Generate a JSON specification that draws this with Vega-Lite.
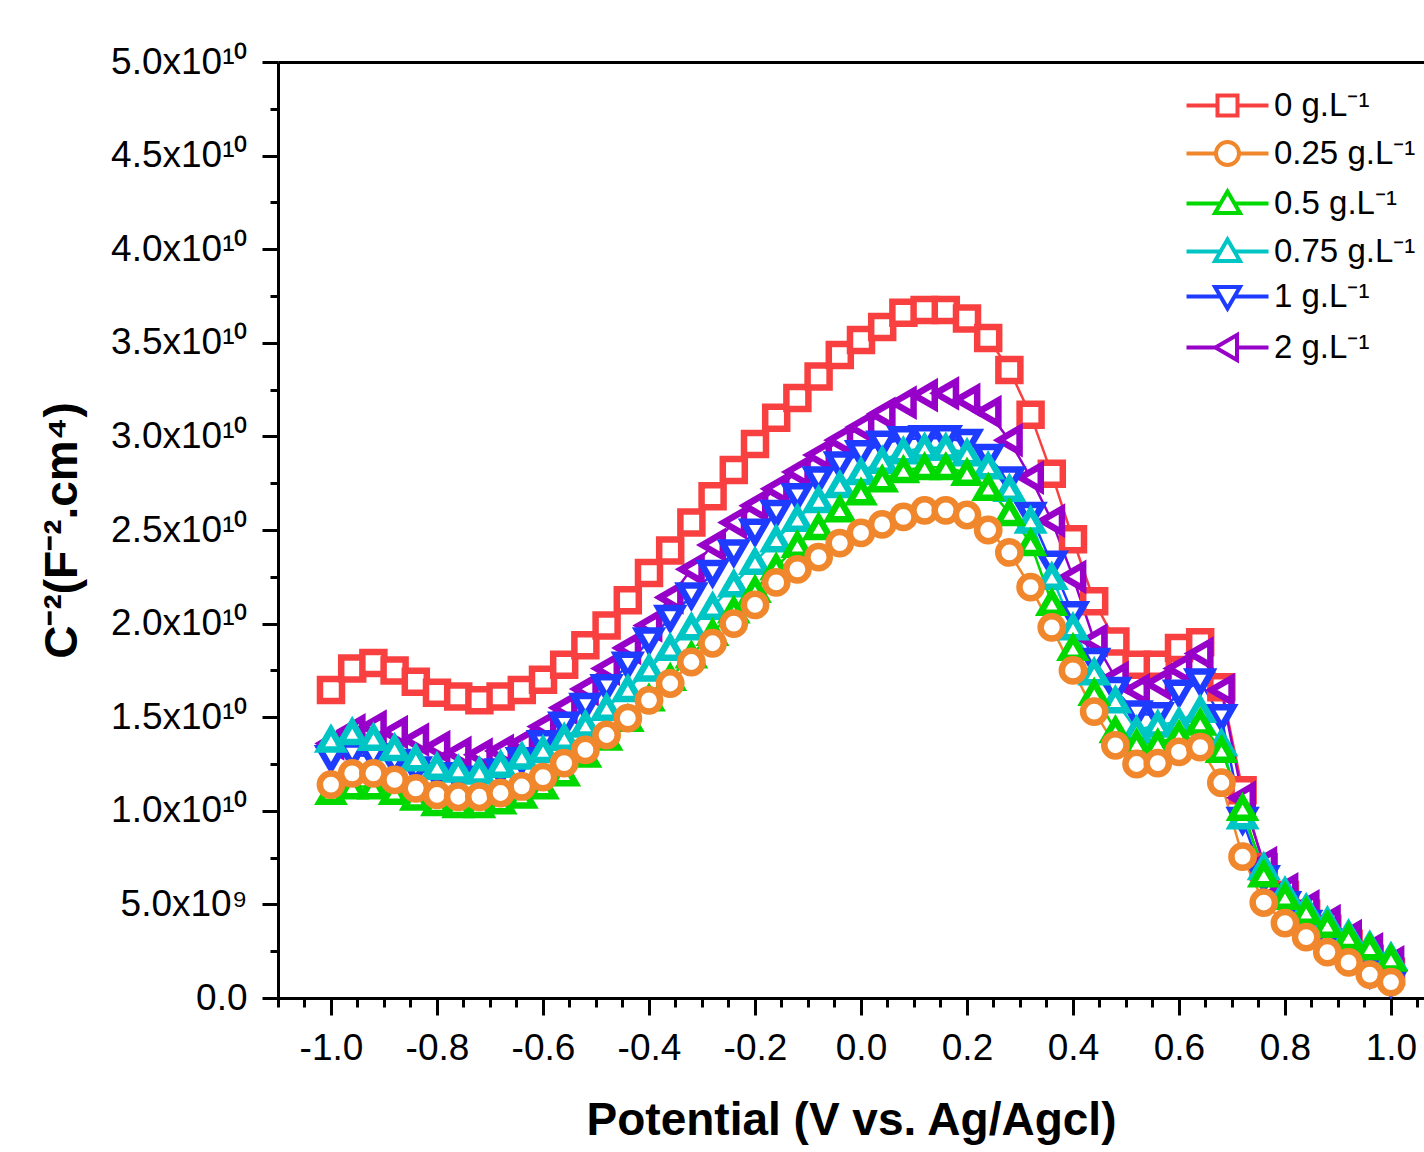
{
"$schema": "https://vega.github.io/schema/vega-lite/v6.json",
"width": 1146, "height": 936,
"autosize": {"type": "none"},
"padding": {"left": 278, "top": 62, "right": 0, "bottom": 154},
"background": "white",
"config": {
 "view": {"stroke": null},
 "axis": {"grid": false, "domainColor": "black", "domainWidth": 3, "tickColor": "black", "tickWidth": 3, "labelFont": "Liberation Sans", "labelFontSize": 37, "labelColor": "black", "titleFont": "Liberation Sans", "titleFontSize": 46, "titleFontWeight": "bold", "titleColor": "black", "labelOverlap": false, "labelFlush": false}
},
"datasets": {"d": [
{"c":"0 g.L⁻¹","v":-1,"y":1.645e10},{"c":"0 g.L⁻¹","v":-0.96,"y":1.76e10},{"c":"0 g.L⁻¹","v":-0.92,"y":1.79e10},{"c":"0 g.L⁻¹","v":-0.88,"y":1.75e10},{"c":"0 g.L⁻¹","v":-0.84,"y":1.69e10},{"c":"0 g.L⁻¹","v":-0.8,"y":1.63e10},{"c":"0 g.L⁻¹","v":-0.76,"y":1.61e10},{"c":"0 g.L⁻¹","v":-0.72,"y":1.59e10},{"c":"0 g.L⁻¹","v":-0.68,"y":1.61e10},{"c":"0 g.L⁻¹","v":-0.64,"y":1.645e10},{"c":"0 g.L⁻¹","v":-0.6,"y":1.7e10},{"c":"0 g.L⁻¹","v":-0.56,"y":1.78e10},{"c":"0 g.L⁻¹","v":-0.52,"y":1.885e10},{"c":"0 g.L⁻¹","v":-0.48,"y":1.99e10},{"c":"0 g.L⁻¹","v":-0.44,"y":2.125e10},{"c":"0 g.L⁻¹","v":-0.4,"y":2.27e10},{"c":"0 g.L⁻¹","v":-0.36,"y":2.39e10},{"c":"0 g.L⁻¹","v":-0.32,"y":2.54e10},{"c":"0 g.L⁻¹","v":-0.28,"y":2.68e10},{"c":"0 g.L⁻¹","v":-0.24,"y":2.82e10},{"c":"0 g.L⁻¹","v":-0.2,"y":2.96e10},{"c":"0 g.L⁻¹","v":-0.16,"y":3.1e10},{"c":"0 g.L⁻¹","v":-0.12,"y":3.205e10},{"c":"0 g.L⁻¹","v":-0.08,"y":3.32e10},{"c":"0 g.L⁻¹","v":-0.04,"y":3.435e10},{"c":"0 g.L⁻¹","v":0,"y":3.515e10},{"c":"0 g.L⁻¹","v":0.04,"y":3.585e10},{"c":"0 g.L⁻¹","v":0.08,"y":3.66e10},{"c":"0 g.L⁻¹","v":0.12,"y":3.675e10},{"c":"0 g.L⁻¹","v":0.16,"y":3.675e10},{"c":"0 g.L⁻¹","v":0.2,"y":3.63e10},{"c":"0 g.L⁻¹","v":0.24,"y":3.525e10},{"c":"0 g.L⁻¹","v":0.28,"y":3.355e10},{"c":"0 g.L⁻¹","v":0.32,"y":3.115e10},{"c":"0 g.L⁻¹","v":0.36,"y":2.8e10},{"c":"0 g.L⁻¹","v":0.4,"y":2.45e10},{"c":"0 g.L⁻¹","v":0.44,"y":2.12e10},{"c":"0 g.L⁻¹","v":0.48,"y":1.905e10},{"c":"0 g.L⁻¹","v":0.52,"y":1.78e10},{"c":"0 g.L⁻¹","v":0.56,"y":1.78e10},{"c":"0 g.L⁻¹","v":0.6,"y":1.87e10},{"c":"0 g.L⁻¹","v":0.64,"y":1.9e10},{"c":"0 g.L⁻¹","v":0.68,"y":1.66e10},{"c":"0 g.L⁻¹","v":0.72,"y":1.11e10},{"c":"0 g.L⁻¹","v":0.76,"y":0.7e10},{"c":"0 g.L⁻¹","v":0.8,"y":0.55e10},{"c":"0 g.L⁻¹","v":0.84,"y":0.45e10},{"c":"0 g.L⁻¹","v":0.88,"y":0.37e10},{"c":"0 g.L⁻¹","v":0.92,"y":0.29e10},{"c":"0 g.L⁻¹","v":0.96,"y":0.21e10},{"c":"0 g.L⁻¹","v":1,"y":0.14e10},
{"c":"2 g.L⁻¹","v":-1,"y":1.36e10},{"c":"2 g.L⁻¹","v":-0.96,"y":1.43e10},{"c":"2 g.L⁻¹","v":-0.92,"y":1.45e10},{"c":"2 g.L⁻¹","v":-0.88,"y":1.42e10},{"c":"2 g.L⁻¹","v":-0.84,"y":1.38e10},{"c":"2 g.L⁻¹","v":-0.8,"y":1.34e10},{"c":"2 g.L⁻¹","v":-0.76,"y":1.31e10},{"c":"2 g.L⁻¹","v":-0.72,"y":1.3e10},{"c":"2 g.L⁻¹","v":-0.68,"y":1.32e10},{"c":"2 g.L⁻¹","v":-0.64,"y":1.36e10},{"c":"2 g.L⁻¹","v":-0.6,"y":1.45e10},{"c":"2 g.L⁻¹","v":-0.56,"y":1.55e10},{"c":"2 g.L⁻¹","v":-0.52,"y":1.65e10},{"c":"2 g.L⁻¹","v":-0.48,"y":1.76e10},{"c":"2 g.L⁻¹","v":-0.44,"y":1.87e10},{"c":"2 g.L⁻¹","v":-0.4,"y":1.99e10},{"c":"2 g.L⁻¹","v":-0.36,"y":2.14e10},{"c":"2 g.L⁻¹","v":-0.32,"y":2.29e10},{"c":"2 g.L⁻¹","v":-0.28,"y":2.42e10},{"c":"2 g.L⁻¹","v":-0.24,"y":2.54e10},{"c":"2 g.L⁻¹","v":-0.2,"y":2.63e10},{"c":"2 g.L⁻¹","v":-0.16,"y":2.72e10},{"c":"2 g.L⁻¹","v":-0.12,"y":2.81e10},{"c":"2 g.L⁻¹","v":-0.08,"y":2.9e10},{"c":"2 g.L⁻¹","v":-0.04,"y":2.98e10},{"c":"2 g.L⁻¹","v":0,"y":3.05e10},{"c":"2 g.L⁻¹","v":0.04,"y":3.12e10},{"c":"2 g.L⁻¹","v":0.08,"y":3.18e10},{"c":"2 g.L⁻¹","v":0.12,"y":3.22e10},{"c":"2 g.L⁻¹","v":0.16,"y":3.23e10},{"c":"2 g.L⁻¹","v":0.2,"y":3.195e10},{"c":"2 g.L⁻¹","v":0.24,"y":3.13e10},{"c":"2 g.L⁻¹","v":0.28,"y":2.98e10},{"c":"2 g.L⁻¹","v":0.32,"y":2.78e10},{"c":"2 g.L⁻¹","v":0.36,"y":2.55e10},{"c":"2 g.L⁻¹","v":0.4,"y":2.25e10},{"c":"2 g.L⁻¹","v":0.44,"y":1.91e10},{"c":"2 g.L⁻¹","v":0.48,"y":1.71e10},{"c":"2 g.L⁻¹","v":0.52,"y":1.645e10},{"c":"2 g.L⁻¹","v":0.56,"y":1.68e10},{"c":"2 g.L⁻¹","v":0.6,"y":1.76e10},{"c":"2 g.L⁻¹","v":0.64,"y":1.84e10},{"c":"2 g.L⁻¹","v":0.68,"y":1.645e10},{"c":"2 g.L⁻¹","v":0.72,"y":1.07e10},{"c":"2 g.L⁻¹","v":0.76,"y":0.72e10},{"c":"2 g.L⁻¹","v":0.8,"y":0.58e10},{"c":"2 g.L⁻¹","v":0.84,"y":0.49e10},{"c":"2 g.L⁻¹","v":0.88,"y":0.41e10},{"c":"2 g.L⁻¹","v":0.92,"y":0.33e10},{"c":"2 g.L⁻¹","v":0.96,"y":0.26e10},{"c":"2 g.L⁻¹","v":1,"y":0.19e10},
{"c":"1 g.L⁻¹","v":-1,"y":1.28e10},{"c":"1 g.L⁻¹","v":-0.96,"y":1.3e10},{"c":"1 g.L⁻¹","v":-0.92,"y":1.29e10},{"c":"1 g.L⁻¹","v":-0.88,"y":1.26e10},{"c":"1 g.L⁻¹","v":-0.84,"y":1.22e10},{"c":"1 g.L⁻¹","v":-0.8,"y":1.19e10},{"c":"1 g.L⁻¹","v":-0.76,"y":1.17e10},{"c":"1 g.L⁻¹","v":-0.72,"y":1.17e10},{"c":"1 g.L⁻¹","v":-0.68,"y":1.21e10},{"c":"1 g.L⁻¹","v":-0.64,"y":1.27e10},{"c":"1 g.L⁻¹","v":-0.6,"y":1.36e10},{"c":"1 g.L⁻¹","v":-0.56,"y":1.46e10},{"c":"1 g.L⁻¹","v":-0.52,"y":1.56e10},{"c":"1 g.L⁻¹","v":-0.48,"y":1.66e10},{"c":"1 g.L⁻¹","v":-0.44,"y":1.78e10},{"c":"1 g.L⁻¹","v":-0.4,"y":1.91e10},{"c":"1 g.L⁻¹","v":-0.36,"y":2.03e10},{"c":"1 g.L⁻¹","v":-0.32,"y":2.15e10},{"c":"1 g.L⁻¹","v":-0.28,"y":2.27e10},{"c":"1 g.L⁻¹","v":-0.24,"y":2.38e10},{"c":"1 g.L⁻¹","v":-0.2,"y":2.49e10},{"c":"1 g.L⁻¹","v":-0.16,"y":2.59e10},{"c":"1 g.L⁻¹","v":-0.12,"y":2.68e10},{"c":"1 g.L⁻¹","v":-0.08,"y":2.77e10},{"c":"1 g.L⁻¹","v":-0.04,"y":2.85e10},{"c":"1 g.L⁻¹","v":0,"y":2.91e10},{"c":"1 g.L⁻¹","v":0.04,"y":2.96e10},{"c":"1 g.L⁻¹","v":0.08,"y":2.985e10},{"c":"1 g.L⁻¹","v":0.12,"y":2.99e10},{"c":"1 g.L⁻¹","v":0.16,"y":2.99e10},{"c":"1 g.L⁻¹","v":0.2,"y":2.97e10},{"c":"1 g.L⁻¹","v":0.24,"y":2.89e10},{"c":"1 g.L⁻¹","v":0.28,"y":2.77e10},{"c":"1 g.L⁻¹","v":0.32,"y":2.58e10},{"c":"1 g.L⁻¹","v":0.36,"y":2.32e10},{"c":"1 g.L⁻¹","v":0.4,"y":2.05e10},{"c":"1 g.L⁻¹","v":0.44,"y":1.8e10},{"c":"1 g.L⁻¹","v":0.48,"y":1.645e10},{"c":"1 g.L⁻¹","v":0.52,"y":1.52e10},{"c":"1 g.L⁻¹","v":0.56,"y":1.51e10},{"c":"1 g.L⁻¹","v":0.6,"y":1.63e10},{"c":"1 g.L⁻¹","v":0.64,"y":1.69e10},{"c":"1 g.L⁻¹","v":0.68,"y":1.5e10},{"c":"1 g.L⁻¹","v":0.72,"y":0.95e10},{"c":"1 g.L⁻¹","v":0.76,"y":0.64e10},{"c":"1 g.L⁻¹","v":0.8,"y":0.5e10},{"c":"1 g.L⁻¹","v":0.84,"y":0.4e10},{"c":"1 g.L⁻¹","v":0.88,"y":0.3e10},{"c":"1 g.L⁻¹","v":0.92,"y":0.21e10},{"c":"1 g.L⁻¹","v":0.96,"y":0.13e10},{"c":"1 g.L⁻¹","v":1,"y":0.08e10},
{"c":"0.75 g.L⁻¹","v":-1,"y":1.38e10},{"c":"0.75 g.L⁻¹","v":-0.96,"y":1.42e10},{"c":"0.75 g.L⁻¹","v":-0.92,"y":1.39e10},{"c":"0.75 g.L⁻¹","v":-0.88,"y":1.335e10},{"c":"0.75 g.L⁻¹","v":-0.84,"y":1.28e10},{"c":"0.75 g.L⁻¹","v":-0.8,"y":1.235e10},{"c":"0.75 g.L⁻¹","v":-0.76,"y":1.22e10},{"c":"0.75 g.L⁻¹","v":-0.72,"y":1.21e10},{"c":"0.75 g.L⁻¹","v":-0.68,"y":1.245e10},{"c":"0.75 g.L⁻¹","v":-0.64,"y":1.29e10},{"c":"0.75 g.L⁻¹","v":-0.6,"y":1.325e10},{"c":"0.75 g.L⁻¹","v":-0.56,"y":1.39e10},{"c":"0.75 g.L⁻¹","v":-0.52,"y":1.46e10},{"c":"0.75 g.L⁻¹","v":-0.48,"y":1.55e10},{"c":"0.75 g.L⁻¹","v":-0.44,"y":1.65e10},{"c":"0.75 g.L⁻¹","v":-0.4,"y":1.76e10},{"c":"0.75 g.L⁻¹","v":-0.36,"y":1.87e10},{"c":"0.75 g.L⁻¹","v":-0.32,"y":1.98e10},{"c":"0.75 g.L⁻¹","v":-0.28,"y":2.09e10},{"c":"0.75 g.L⁻¹","v":-0.24,"y":2.21e10},{"c":"0.75 g.L⁻¹","v":-0.2,"y":2.33e10},{"c":"0.75 g.L⁻¹","v":-0.16,"y":2.45e10},{"c":"0.75 g.L⁻¹","v":-0.12,"y":2.56e10},{"c":"0.75 g.L⁻¹","v":-0.08,"y":2.66e10},{"c":"0.75 g.L⁻¹","v":-0.04,"y":2.74e10},{"c":"0.75 g.L⁻¹","v":0,"y":2.81e10},{"c":"0.75 g.L⁻¹","v":0.04,"y":2.87e10},{"c":"0.75 g.L⁻¹","v":0.08,"y":2.92e10},{"c":"0.75 g.L⁻¹","v":0.12,"y":2.94e10},{"c":"0.75 g.L⁻¹","v":0.16,"y":2.94e10},{"c":"0.75 g.L⁻¹","v":0.2,"y":2.91e10},{"c":"0.75 g.L⁻¹","v":0.24,"y":2.84e10},{"c":"0.75 g.L⁻¹","v":0.28,"y":2.72e10},{"c":"0.75 g.L⁻¹","v":0.32,"y":2.55e10},{"c":"0.75 g.L⁻¹","v":0.36,"y":2.25e10},{"c":"0.75 g.L⁻¹","v":0.4,"y":1.98e10},{"c":"0.75 g.L⁻¹","v":0.44,"y":1.74e10},{"c":"0.75 g.L⁻¹","v":0.48,"y":1.59e10},{"c":"0.75 g.L⁻¹","v":0.52,"y":1.43e10},{"c":"0.75 g.L⁻¹","v":0.56,"y":1.46e10},{"c":"0.75 g.L⁻¹","v":0.6,"y":1.475e10},{"c":"0.75 g.L⁻¹","v":0.64,"y":1.54e10},{"c":"0.75 g.L⁻¹","v":0.68,"y":1.36e10},{"c":"0.75 g.L⁻¹","v":0.72,"y":0.97e10},{"c":"0.75 g.L⁻¹","v":0.76,"y":0.7e10},{"c":"0.75 g.L⁻¹","v":0.8,"y":0.57e10},{"c":"0.75 g.L⁻¹","v":0.84,"y":0.48e10},{"c":"0.75 g.L⁻¹","v":0.88,"y":0.41e10},{"c":"0.75 g.L⁻¹","v":0.92,"y":0.34e10},{"c":"0.75 g.L⁻¹","v":0.96,"y":0.28e10},{"c":"0.75 g.L⁻¹","v":1,"y":0.22e10},
{"c":"0.5 g.L⁻¹","v":-1,"y":1.1e10},{"c":"0.5 g.L⁻¹","v":-0.96,"y":1.13e10},{"c":"0.5 g.L⁻¹","v":-0.92,"y":1.13e10},{"c":"0.5 g.L⁻¹","v":-0.88,"y":1.1e10},{"c":"0.5 g.L⁻¹","v":-0.84,"y":1.07e10},{"c":"0.5 g.L⁻¹","v":-0.8,"y":1.04e10},{"c":"0.5 g.L⁻¹","v":-0.76,"y":1.03e10},{"c":"0.5 g.L⁻¹","v":-0.72,"y":1.03e10},{"c":"0.5 g.L⁻¹","v":-0.68,"y":1.05e10},{"c":"0.5 g.L⁻¹","v":-0.64,"y":1.08e10},{"c":"0.5 g.L⁻¹","v":-0.6,"y":1.13e10},{"c":"0.5 g.L⁻¹","v":-0.56,"y":1.2e10},{"c":"0.5 g.L⁻¹","v":-0.52,"y":1.3e10},{"c":"0.5 g.L⁻¹","v":-0.48,"y":1.39e10},{"c":"0.5 g.L⁻¹","v":-0.44,"y":1.49e10},{"c":"0.5 g.L⁻¹","v":-0.4,"y":1.6e10},{"c":"0.5 g.L⁻¹","v":-0.36,"y":1.71e10},{"c":"0.5 g.L⁻¹","v":-0.32,"y":1.83e10},{"c":"0.5 g.L⁻¹","v":-0.28,"y":1.95e10},{"c":"0.5 g.L⁻¹","v":-0.24,"y":2.07e10},{"c":"0.5 g.L⁻¹","v":-0.2,"y":2.18e10},{"c":"0.5 g.L⁻¹","v":-0.16,"y":2.3e10},{"c":"0.5 g.L⁻¹","v":-0.12,"y":2.42e10},{"c":"0.5 g.L⁻¹","v":-0.08,"y":2.515e10},{"c":"0.5 g.L⁻¹","v":-0.04,"y":2.61e10},{"c":"0.5 g.L⁻¹","v":0,"y":2.7e10},{"c":"0.5 g.L⁻¹","v":0.04,"y":2.77e10},{"c":"0.5 g.L⁻¹","v":0.08,"y":2.82e10},{"c":"0.5 g.L⁻¹","v":0.12,"y":2.835e10},{"c":"0.5 g.L⁻¹","v":0.16,"y":2.835e10},{"c":"0.5 g.L⁻¹","v":0.2,"y":2.805e10},{"c":"0.5 g.L⁻¹","v":0.24,"y":2.725e10},{"c":"0.5 g.L⁻¹","v":0.28,"y":2.59e10},{"c":"0.5 g.L⁻¹","v":0.32,"y":2.43e10},{"c":"0.5 g.L⁻¹","v":0.36,"y":2.11e10},{"c":"0.5 g.L⁻¹","v":0.4,"y":1.87e10},{"c":"0.5 g.L⁻¹","v":0.44,"y":1.63e10},{"c":"0.5 g.L⁻¹","v":0.48,"y":1.43e10},{"c":"0.5 g.L⁻¹","v":0.52,"y":1.36e10},{"c":"0.5 g.L⁻¹","v":0.56,"y":1.36e10},{"c":"0.5 g.L⁻¹","v":0.6,"y":1.405e10},{"c":"0.5 g.L⁻¹","v":0.64,"y":1.47e10},{"c":"0.5 g.L⁻¹","v":0.68,"y":1.325e10},{"c":"0.5 g.L⁻¹","v":0.72,"y":1.015e10},{"c":"0.5 g.L⁻¹","v":0.76,"y":0.66e10},{"c":"0.5 g.L⁻¹","v":0.8,"y":0.54e10},{"c":"0.5 g.L⁻¹","v":0.84,"y":0.46e10},{"c":"0.5 g.L⁻¹","v":0.88,"y":0.39e10},{"c":"0.5 g.L⁻¹","v":0.92,"y":0.325e10},{"c":"0.5 g.L⁻¹","v":0.96,"y":0.27e10},{"c":"0.5 g.L⁻¹","v":1,"y":0.21e10},
{"c":"0.25 g.L⁻¹","v":-1,"y":1.14e10},{"c":"0.25 g.L⁻¹","v":-0.96,"y":1.2e10},{"c":"0.25 g.L⁻¹","v":-0.92,"y":1.2e10},{"c":"0.25 g.L⁻¹","v":-0.88,"y":1.165e10},{"c":"0.25 g.L⁻¹","v":-0.84,"y":1.12e10},{"c":"0.25 g.L⁻¹","v":-0.8,"y":1.085e10},{"c":"0.25 g.L⁻¹","v":-0.76,"y":1.075e10},{"c":"0.25 g.L⁻¹","v":-0.72,"y":1.075e10},{"c":"0.25 g.L⁻¹","v":-0.68,"y":1.095e10},{"c":"0.25 g.L⁻¹","v":-0.64,"y":1.13e10},{"c":"0.25 g.L⁻¹","v":-0.6,"y":1.18e10},{"c":"0.25 g.L⁻¹","v":-0.56,"y":1.255e10},{"c":"0.25 g.L⁻¹","v":-0.52,"y":1.325e10},{"c":"0.25 g.L⁻¹","v":-0.48,"y":1.405e10},{"c":"0.25 g.L⁻¹","v":-0.44,"y":1.495e10},{"c":"0.25 g.L⁻¹","v":-0.4,"y":1.59e10},{"c":"0.25 g.L⁻¹","v":-0.36,"y":1.68e10},{"c":"0.25 g.L⁻¹","v":-0.32,"y":1.795e10},{"c":"0.25 g.L⁻¹","v":-0.28,"y":1.895e10},{"c":"0.25 g.L⁻¹","v":-0.24,"y":2e10},{"c":"0.25 g.L⁻¹","v":-0.2,"y":2.1e10},{"c":"0.25 g.L⁻¹","v":-0.16,"y":2.22e10},{"c":"0.25 g.L⁻¹","v":-0.12,"y":2.29e10},{"c":"0.25 g.L⁻¹","v":-0.08,"y":2.355e10},{"c":"0.25 g.L⁻¹","v":-0.04,"y":2.43e10},{"c":"0.25 g.L⁻¹","v":0,"y":2.485e10},{"c":"0.25 g.L⁻¹","v":0.04,"y":2.53e10},{"c":"0.25 g.L⁻¹","v":0.08,"y":2.57e10},{"c":"0.25 g.L⁻¹","v":0.12,"y":2.605e10},{"c":"0.25 g.L⁻¹","v":0.16,"y":2.605e10},{"c":"0.25 g.L⁻¹","v":0.2,"y":2.58e10},{"c":"0.25 g.L⁻¹","v":0.24,"y":2.5e10},{"c":"0.25 g.L⁻¹","v":0.28,"y":2.38e10},{"c":"0.25 g.L⁻¹","v":0.32,"y":2.195e10},{"c":"0.25 g.L⁻¹","v":0.36,"y":1.98e10},{"c":"0.25 g.L⁻¹","v":0.4,"y":1.75e10},{"c":"0.25 g.L⁻¹","v":0.44,"y":1.53e10},{"c":"0.25 g.L⁻¹","v":0.48,"y":1.35e10},{"c":"0.25 g.L⁻¹","v":0.52,"y":1.25e10},{"c":"0.25 g.L⁻¹","v":0.56,"y":1.255e10},{"c":"0.25 g.L⁻¹","v":0.6,"y":1.315e10},{"c":"0.25 g.L⁻¹","v":0.64,"y":1.34e10},{"c":"0.25 g.L⁻¹","v":0.68,"y":1.15e10},{"c":"0.25 g.L⁻¹","v":0.72,"y":0.755e10},{"c":"0.25 g.L⁻¹","v":0.76,"y":0.51e10},{"c":"0.25 g.L⁻¹","v":0.8,"y":0.4e10},{"c":"0.25 g.L⁻¹","v":0.84,"y":0.325e10},{"c":"0.25 g.L⁻¹","v":0.88,"y":0.245e10},{"c":"0.25 g.L⁻¹","v":0.92,"y":0.19e10},{"c":"0.25 g.L⁻¹","v":0.96,"y":0.125e10},{"c":"0.25 g.L⁻¹","v":1,"y":0.085e10}
]},
"data": {"name": "d"},
"encoding": {
 "y": {"field": "y", "type": "quantitative", "scale": {"domain": [0, 5e10], "nice": false, "zero": false},
  "axis": {"values": [0,2.5e9,5e9,7.5e9,1e10,1.25e10,1.5e10,1.75e10,2e10,2.25e10,2.5e10,2.75e10,3e10,3.25e10,3.5e10,3.75e10,4e10,4.25e10,4.5e10,4.75e10,5e10],
   "title": "C⁻²(F⁻².cm⁴)",
   "labelExpr": "abs(datum.value/5e9 - round(datum.value/5e9)) < 0.01 ? (datum.value == 0 ? '0.0' : (datum.value < 7e9 ? format(datum.value/1e9,'.1f') + 'x10⁹' : format(datum.value/1e10,'.1f') + 'x10¹⁰')) : ''",
   "tickSize": {"condition": {"test": "abs(datum.value/5e9 - round(datum.value/5e9)) < 0.01", "value": 16}, "value": 8},
   "labelPadding": 15, "titlePadding": 24, "labelBaseline": "middle"}}
},
"layer": [
 {"mark": {"type": "line", "strokeWidth": 2.5},
  "encoding": {
   "x": {"field": "v", "type": "quantitative", "scale": {"domain": [-1.1, 1.0623], "nice": false, "zero": false},
    "axis": {"orient": "top", "labels": false, "ticks": false, "title": null, "domain": true}},
   "color": {"field": "c", "type": "nominal", "legend": null,
    "scale": {"domain": ["0 g.L⁻¹","0.25 g.L⁻¹","0.5 g.L⁻¹","0.75 g.L⁻¹","1 g.L⁻¹","2 g.L⁻¹"], "range": ["#F94040","#F0872D","#00D900","#00C5C5","#1E3CFF","#9600C8"]}}
  }},
 {"mark": {"type": "point", "filled": false, "fill": "white", "strokeWidth": 6.5, "opacity": 1},
  "encoding": {
   "x": {"field": "v", "type": "quantitative", "scale": {"domain": [-1.1, 1.0623], "nice": false, "zero": false},
    "axis": {"orient": "bottom",
     "values": [-1.1,-1.05,-1,-0.95,-0.9,-0.85,-0.8,-0.75,-0.7,-0.65,-0.6,-0.55,-0.5,-0.45,-0.4,-0.35,-0.3,-0.25,-0.2,-0.15,-0.1,-0.05,0,0.05,0.1,0.15,0.2,0.25,0.3,0.35,0.4,0.45,0.5,0.55,0.6,0.65,0.7,0.75,0.8,0.85,0.9,0.95,1,1.05],
     "title": "Potential (V vs. Ag/Agcl)",
     "labelExpr": "abs(datum.value*5 - round(datum.value*5)) < 0.001 ? (datum.value < -0.001 ? '-' + format(-datum.value,'.1f') : format(abs(datum.value),'.1f')) : ''",
     "tickSize": {"condition": {"test": "abs(datum.value*5 - round(datum.value*5)) < 0.001", "value": 17}, "value": 9},
     "labelPadding": 15, "titlePadding": 32}},
   "color": {"field": "c", "type": "nominal", "legend": null,
    "scale": {"domain": ["0 g.L⁻¹","0.25 g.L⁻¹","0.5 g.L⁻¹","0.75 g.L⁻¹","1 g.L⁻¹","2 g.L⁻¹"], "range": ["#F94040","#F0872D","#00D900","#00C5C5","#1E3CFF","#9600C8"]}},
   "shape": {"field": "c", "type": "nominal", "legend": null,
    "scale": {"domain": ["0 g.L⁻¹","0.25 g.L⁻¹","0.5 g.L⁻¹","0.75 g.L⁻¹","1 g.L⁻¹","2 g.L⁻¹"], "range": ["square","circle","triangle-up","triangle-up","triangle-down","triangle-left"]}},
   "size": {"field": "c", "type": "ordinal", "legend": null,
    "scale": {"domain": ["0 g.L⁻¹","0.25 g.L⁻¹","0.5 g.L⁻¹","0.75 g.L⁻¹","1 g.L⁻¹","2 g.L⁻¹"], "range": [484,552,450,450,450,450]}}
  }},
 {"transform": [{"filter": "datum.v > 5"}],
  "mark": {"type": "point", "filled": false, "fill": "white", "strokeWidth": 4, "opacity": 1},
  "encoding": {
   "x": {"field": "v", "type": "quantitative", "axis": null, "scale": {"domain": [-1.1, 1.0623], "nice": false, "zero": false}},
   "color": {"field": "c", "type": "nominal",
    "scale": {"domain": ["0 g.L⁻¹","0.25 g.L⁻¹","0.5 g.L⁻¹","0.75 g.L⁻¹","1 g.L⁻¹","2 g.L⁻¹"], "range": ["#F94040","#F0872D","#00D900","#00C5C5","#1E3CFF","#9600C8"]},
    "legend": {"title": null, "orient": "none", "legendX": 933, "legendY": 27, "padding": 0,
     "labelFont": "Liberation Sans", "labelFontSize": 33, "labelColor": "black",
     "symbolSize": 400, "symbolStrokeWidth": 4, "symbolOpacity": 1, "labelOffset": 30, "rowPadding": 10}},
   "shape": {"field": "c", "type": "nominal",
    "scale": {"domain": ["0 g.L⁻¹","0.25 g.L⁻¹","0.5 g.L⁻¹","0.75 g.L⁻¹","1 g.L⁻¹","2 g.L⁻¹"],
     "range": ["M-4.1,0L-1,0M1,0L4.1,0M-1,-1L1,-1L1,1L-1,1Z",
               "M-4.1,0L-1.15,0M1.15,0L4.1,0M-1.15,0A1.15,1.15,0,1,0,1.15,0A1.15,1.15,0,1,0,-1.15,0Z",
               "M-4.1,0L-0.7,0M0.7,0L4.1,0M0,-1.2L1.25,0.95L-1.25,0.95Z",
               "M-4.1,0L-0.7,0M0.7,0L4.1,0M0,-1.2L1.25,0.95L-1.25,0.95Z",
               "M-4.1,0L-0.7,0M0.7,0L4.1,0M0,1.2L1.25,-0.95L-1.25,-0.95Z",
               "M-4.1,0L-1.2,0M0.95,0L4.1,0M-1.2,0L0.95,-1.25L0.95,1.25Z"]},
    "legend": {"title": null, "orient": "none", "legendX": 933, "legendY": 27, "padding": 0,
     "labelFont": "Liberation Sans", "labelFontSize": 33, "labelColor": "black",
     "symbolSize": 400, "symbolStrokeWidth": 4, "symbolOpacity": 1, "labelOffset": 30, "rowPadding": 10}}
  }}
],
"resolve": {"axis": {"x": "independent"}, "scale": {"color": "independent", "shape": "independent"}}
}
